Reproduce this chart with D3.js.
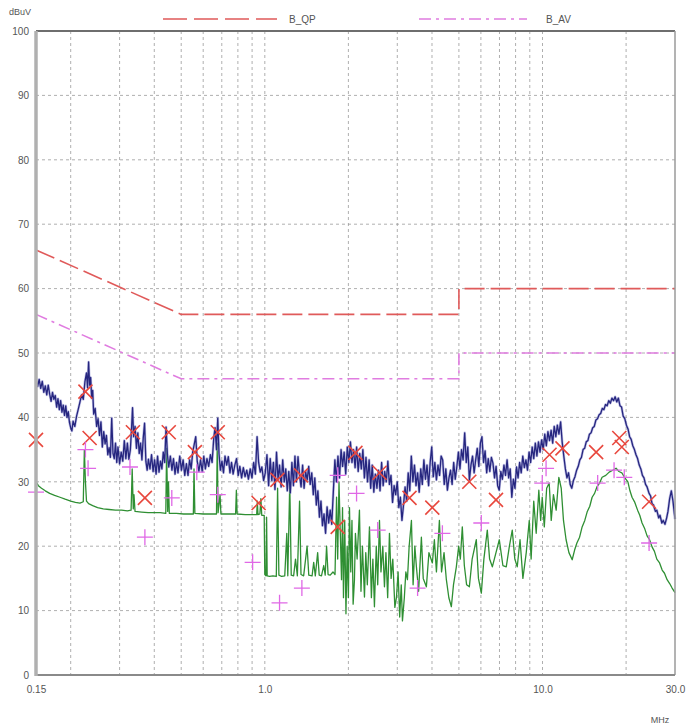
<!DOCTYPE html>
<html>
<head>
<meta charset="utf-8">
<script src="https://cdn.jsdelivr.net/npm/d3@7"></script>
<style>
  body { margin: 0; background: #fff; }
  svg { display: block; }
  text { font-family: "Liberation Sans", Arial, sans-serif; }
</style>
</head>
<body>
<svg id="chart" width="689" height="728"></svg>
<script>
// ---- axis definitions ----
const yTickValues = [0, 10, 20, 30, 40, 50, 60, 70, 80, 90, 100];
const xTickValues = [0.15, 1, 10, 30];
const xTickLabels = ["0.15", "1.0", "10.0", "30.0"];
const gridFreqs = [0.2, 0.3, 0.4, 0.5, 0.6, 0.7, 0.8, 0.9, 1, 2, 3, 4, 5, 6, 7, 8, 9, 10, 20];
const gridLevels = [10, 20, 30, 40, 50, 60, 70, 80, 90];
const yUnit = "dBuV";
const xUnit = "MHz";
const legendNames = ["B_QP", "B_AV"];

// ---- limit lines (MHz, dBuV) ----
const qpLimit = [[0.15, 66], [0.5, 56], [5, 56], [5, 60], [30, 60]];
const avLimit = [[0.15, 56], [0.5, 46], [5, 46], [5, 50], [30, 50]];

// ---- peak detector sweep (MHz, dBuV) ----
const peakTrace = [
  [0.150,46.0],[0.152,44.8],[0.154,45.9],[0.156,44.5],[0.158,45.6],[0.160,43.9],[0.162,44.9],[0.164,43.5],
  [0.166,45.0],[0.168,43.6],[0.170,42.5],[0.172,43.9],[0.174,42.8],[0.176,43.4],[0.178,41.6],[0.180,42.9],
  [0.182,41.2],[0.184,42.6],[0.186,40.8],[0.188,41.9],[0.190,40.3],[0.192,41.8],[0.194,40.0],[0.196,40.9],
  [0.198,39.2],[0.200,38.4],[0.202,37.9],[0.204,39.4],[0.207,38.6],[0.210,40.2],[0.213,41.3],[0.216,42.4],
  [0.219,43.5],[0.222,42.8],[0.225,45.5],[0.228,46.9],[0.230,44.6],[0.232,48.6],[0.234,45.0],[0.236,46.2],
  [0.238,43.0],[0.240,44.2],[0.242,40.5],[0.245,41.4],[0.248,38.6],[0.251,39.8],[0.254,37.2],[0.257,39.3],
  [0.260,35.4],[0.263,37.8],[0.266,35.9],[0.269,37.2],[0.272,34.2],[0.275,35.3],[0.278,33.8],[0.281,39.9],
  [0.284,34.4],[0.287,33.6],[0.290,36.0],[0.293,33.0],[0.296,35.4],[0.300,32.8],[0.304,34.6],[0.308,33.2],
  [0.312,36.4],[0.316,33.6],[0.320,36.0],[0.324,33.5],[0.328,35.0],[0.331,38.0],[0.334,41.5],[0.337,37.0],
  [0.341,38.6],[0.345,35.2],[0.349,37.6],[0.353,34.4],[0.357,36.0],[0.361,33.4],[0.365,36.8],[0.369,39.1],
  [0.373,33.2],[0.377,31.8],[0.381,33.5],[0.386,32.0],[0.391,34.2],[0.396,31.6],[0.401,33.4],[0.406,31.2],
  [0.411,34.0],[0.416,31.5],[0.421,33.2],[0.426,32.0],[0.431,34.6],[0.436,33.0],[0.441,38.5],[0.446,34.2],
  [0.451,32.3],[0.457,34.0],[0.463,31.8],[0.469,33.6],[0.475,31.2],[0.481,33.0],[0.487,31.4],[0.494,34.0],
  [0.501,31.8],[0.508,33.4],[0.515,31.0],[0.522,32.8],[0.529,31.0],[0.536,33.4],[0.543,32.0],[0.550,34.6],
  [0.557,35.8],[0.564,37.0],[0.571,33.2],[0.579,31.6],[0.587,33.4],[0.595,31.6],[0.603,34.0],[0.611,32.0],
  [0.619,33.6],[0.628,32.4],[0.637,34.2],[0.646,33.0],[0.655,36.8],[0.662,38.4],[0.670,35.0],[0.677,39.9],
  [0.684,34.4],[0.692,31.8],[0.701,33.2],[0.710,31.4],[0.719,34.0],[0.729,32.6],[0.739,33.9],[0.749,31.4],
  [0.759,33.0],[0.769,31.2],[0.780,32.6],[0.791,33.6],[0.802,31.0],[0.813,32.4],[0.825,30.6],[0.837,32.2],
  [0.849,30.8],[0.861,31.8],[0.873,30.4],[0.886,32.0],[0.899,30.6],[0.912,33.0],[0.925,31.2],[0.938,37.0],
  [0.950,33.0],[0.963,31.5],[0.976,32.3],[0.990,30.2],
  [1.004,31.4],[1.018,34.2],[1.032,29.4],[1.046,33.6],[1.060,30.2],[1.074,33.0],[1.088,28.8],[1.102,34.6],
  [1.116,30.4],[1.130,32.6],[1.145,29.2],[1.160,33.4],[1.175,30.0],[1.190,32.0],[1.205,28.6],[1.220,31.6],
  [1.236,28.3],[1.252,33.0],[1.268,29.4],[1.284,34.0],[1.300,30.0],[1.317,33.9],[1.334,31.0],[1.351,29.2],
  [1.368,32.6],[1.385,29.0],[1.403,31.6],[1.421,30.3],[1.439,32.4],[1.457,29.6],[1.476,31.4],[1.495,28.0],
  [1.514,30.6],[1.533,26.4],[1.553,28.6],[1.573,24.5],[1.593,27.0],[1.613,23.2],[1.634,25.0],[1.655,22.0],
  [1.676,26.1],[1.698,23.6],[1.720,25.6],[1.742,23.4],[1.765,28.4],[1.788,33.4],[1.811,30.0],[1.834,34.0],
  [1.858,30.6],[1.882,35.0],[1.906,32.4],[1.931,34.6],[1.956,31.2],[1.982,35.4],[2.008,33.0],
  [2.034,36.2],[2.060,33.0],[2.087,35.0],[2.114,32.2],[2.141,35.4],[2.169,31.6],[2.197,34.4],[2.226,32.0],
  [2.255,35.0],[2.284,30.6],[2.314,33.8],[2.344,30.0],[2.375,33.4],[2.406,29.0],[2.437,32.6],[2.469,28.4],
  [2.501,31.2],[2.534,29.0],[2.567,31.8],[2.600,28.6],[2.634,33.0],[2.668,29.4],[2.703,31.6],[2.738,30.0],
  [2.774,33.2],[2.810,29.6],[2.847,31.0],[2.884,26.8],[2.922,29.4],[2.960,28.0],[2.999,30.0],[3.038,26.0],
  [3.078,27.6],[3.118,24.0],[3.159,26.4],[3.200,29.2],[3.242,27.0],[3.284,31.4],[3.327,28.6],[3.370,34.0],
  [3.414,30.0],[3.459,32.6],[3.504,29.4],[3.550,31.4],[3.597,28.4],[3.644,32.0],[3.692,29.6],[3.740,33.4],
  [3.789,30.4],[3.838,32.6],[3.889,29.4],[3.940,33.0],[3.991,35.4],[4.043,30.8],[4.096,33.0],[4.150,30.3],
  [4.204,32.6],[4.259,31.0],[4.315,34.0],[4.371,33.4],[4.428,29.6],[4.486,32.0],[4.545,28.7],[4.605,30.6],
  [4.665,31.8],[4.726,29.6],[4.788,33.0],[4.851,30.4],[4.914,32.3],[4.979,34.6],
  [5.044,32.0],[5.110,35.0],[5.177,33.4],[5.245,37.6],[5.314,33.0],[5.384,35.4],[5.454,30.3],[5.526,32.6],
  [5.598,34.0],[5.672,31.4],[5.746,33.4],[5.821,35.2],[5.898,32.4],[5.975,36.0],[6.053,37.0],[6.133,33.0],
  [6.213,34.8],[6.295,31.4],[6.377,33.6],[6.461,31.6],[6.546,33.8],[6.631,32.9],[6.718,30.6],[6.806,32.4],
  [6.895,29.4],[6.986,28.7],[7.077,31.6],[7.170,30.4],[7.264,32.6],[7.359,31.0],[7.455,33.4],[7.553,30.6],
  [7.652,32.0],[7.752,27.6],[7.854,30.4],[7.957,29.0],[8.061,32.3],[8.166,30.6],[8.273,33.0],[8.382,31.4],
  [8.491,34.0],[8.603,32.2],[8.715,33.4],[8.829,31.8],[8.945,34.6],[9.062,33.0],[9.181,35.4],[9.301,33.6],
  [9.423,36.0],[9.546,34.0],[9.671,36.2],[9.798,34.6],[9.926,36.5],
  [10.06,35.0],[10.19,37.4],[10.32,35.6],[10.46,37.8],[10.60,36.4],[10.74,38.0],[10.88,36.0],[11.02,38.6],
  [11.17,37.0],[11.31,38.8],[11.46,37.4],[11.62,39.3],[11.77,36.2],[11.93,34.0],[12.09,32.0],[12.25,30.6],
  [12.41,31.4],[12.58,29.6],[12.75,29.0],[12.92,30.2],[13.09,30.8],[13.27,31.8],[13.45,32.4],[13.63,33.4],
  [13.81,33.8],[14.00,35.0],[14.18,35.2],[14.37,36.2],[14.57,36.4],[14.76,37.4],[14.96,37.6],[15.16,38.4],
  [15.36,38.6],[15.57,39.6],[15.78,39.8],[15.99,40.4],[16.20,40.6],[16.42,41.4],[16.64,41.2],[16.86,42.0],
  [17.09,41.8],[17.32,42.6],[17.55,42.2],[17.78,43.0],[18.02,42.6],[18.26,43.2],[18.51,42.4],[18.76,43.0],
  [19.01,41.8],[19.26,41.6],[19.52,40.2],[19.78,39.8],[20.05,38.8],[20.32,38.2],[20.59,37.0],[20.86,36.6],
  [21.14,35.6],[21.43,35.0],[21.71,34.2],[22.00,33.6],[22.30,32.6],[22.60,32.0],[22.90,31.0],[23.20,30.6],
  [23.50,29.6],[23.80,29.2],[24.20,28.2],[24.50,27.8],[24.80,26.6],[25.10,26.4],[25.50,25.4],[25.80,25.6],
  [26.20,24.4],[26.50,24.8],[26.90,23.6],[27.20,24.0],[27.60,23.4],[28.00,24.4],[28.30,25.4],[28.70,27.4],
  [29.10,28.6],[29.50,27.0],[30.00,24.2]
];

// ---- average detector sweep (MHz, dBuV) ----
const avgTrace = [
  [0.150,30.0],[0.153,29.4],[0.157,29.0],[0.162,28.6],[0.168,28.2],[0.175,27.9],[0.183,27.6],[0.191,27.3],
  [0.200,27.0],[0.208,26.8],[0.216,26.7],[0.222,26.9],[0.224,35.0],[0.226,30.0],[0.228,27.0],[0.232,26.6],
  [0.240,26.3],[0.250,26.0],[0.262,25.8],[0.275,25.7],[0.290,25.6],[0.305,25.6],[0.320,25.5],[0.330,25.6],
  [0.333,32.0],[0.336,25.8],[0.338,28.0],[0.341,25.4],[0.360,25.3],[0.380,25.2],[0.400,25.2],[0.420,25.2],
  [0.440,25.1],[0.443,35.2],[0.447,25.4],[0.450,30.0],[0.453,25.1],[0.480,25.1],[0.510,25.0],[0.540,25.0],
  [0.553,25.0],[0.556,32.0],[0.560,25.1],[0.600,25.0],[0.640,25.0],[0.670,25.0],[0.674,36.0],[0.679,25.2],
  [0.690,28.0],[0.695,25.0],[0.740,25.0],[0.785,25.0],[0.790,28.7],[0.795,25.0],[0.850,24.9],[0.900,24.9],
  [0.935,24.9],[0.940,27.0],[0.945,24.9],[0.960,25.0],[0.968,27.4],[0.975,24.8],[0.995,24.8],
  [1.000,15.6],[1.010,15.4],[1.015,24.5],[1.020,15.4],[1.040,15.3],[1.070,15.4],[1.100,15.3],[1.112,29.0],
  [1.124,15.5],[1.150,15.3],[1.180,15.4],[1.200,22.0],[1.210,15.4],[1.230,29.8],[1.245,15.5],[1.270,15.4],
  [1.290,18.0],[1.310,15.4],[1.334,27.0],[1.350,15.6],[1.380,15.4],[1.420,20.0],[1.440,15.5],[1.480,15.4],
  [1.500,17.5],[1.520,15.4],[1.550,19.0],[1.570,15.5],[1.600,15.4],[1.630,17.0],[1.650,15.5],[1.669,20.0],
  [1.690,15.6],[1.720,15.5],[1.760,16.0],[1.790,15.6],[1.813,27.6],[1.830,18.0],[1.850,30.0],[1.870,22.0],
  [1.889,14.8],[1.905,26.0],[1.920,12.0],[1.940,24.0],[1.960,9.5],[1.980,20.0],[2.000,12.0],[2.018,26.0],
  [2.040,16.0],[2.060,24.0],[2.080,11.0],[2.103,14.8],[2.120,22.0],[2.150,18.0],[2.192,25.6],[2.220,13.0],
  [2.247,20.0],[2.285,12.1],[2.310,19.0],[2.340,14.0],[2.382,23.0],[2.420,12.0],[2.450,18.0],[2.482,10.6],
  [2.520,20.0],[2.550,14.0],[2.588,24.0],[2.620,16.0],[2.660,20.0],[2.697,13.7],[2.730,19.0],[2.770,12.0],
  [2.811,22.0],[2.850,15.0],[2.890,18.0],[2.940,10.5],[2.980,12.1],[3.020,16.0],[3.060,9.0],[3.100,14.0],
  [3.131,8.4],[3.180,12.0],[3.220,16.0],[3.263,14.8],[3.310,20.0],[3.373,24.0],[3.420,14.0],[3.470,20.0],
  [3.515,16.8],[3.580,13.0],[3.663,21.4],[3.720,15.0],[3.818,13.7],[3.900,19.0],[4.012,17.4],[4.080,21.0],
  [4.150,16.0],[4.253,24.0],[4.330,16.0],[4.420,19.0],[4.506,14.8],[4.600,12.0],[4.697,10.6],[4.780,14.0],
  [4.895,16.8],[4.990,20.0],[5.060,18.0],[5.143,23.0],[5.230,17.0],[5.330,14.0],[5.453,13.7],[5.580,18.0],
  [5.776,21.0],[5.880,15.0],[6.022,12.7],[6.150,18.0],[6.327,22.5],[6.450,18.0],[6.597,16.8],[6.800,19.0],
  [6.990,21.0],[7.200,17.0],[7.404,16.8],[7.600,20.0],[7.782,22.5],[7.950,18.0],[8.111,16.8],[8.300,21.0],
  [8.500,15.0],[8.739,19.0],[8.960,24.0],[9.100,18.0],[9.300,27.0],[9.490,22.0],[9.700,28.7],[9.850,24.0],
  [9.977,27.6],[10.15,23.0],[10.35,29.0],[10.57,29.8],[10.75,24.0],[10.95,28.0],[11.20,25.6],[11.45,30.7],
  [11.68,29.0],[11.90,24.0],[12.16,21.0],[12.45,19.0],[12.79,17.9],[13.05,19.4],[13.30,20.5],[13.60,21.4],
  [13.89,23.0],[14.20,24.0],[14.50,25.4],[14.80,26.2],[15.09,27.6],[15.40,28.2],[15.70,29.2],[16.05,29.8],
  [16.39,30.7],[16.90,31.0],[17.38,31.5],[17.90,31.8],[18.40,32.1],[18.85,31.6],[19.30,31.4],[19.80,30.6],
  [20.30,30.0],[20.65,28.6],[21.01,27.6],[21.50,26.8],[22.00,25.6],[22.40,24.8],[22.83,23.6],[23.30,22.8],
  [23.80,21.6],[24.30,21.0],[24.80,19.9],[25.30,19.2],[25.80,18.0],[26.40,17.4],[26.97,16.3],[27.50,15.8],
  [28.10,14.8],[28.70,14.2],[29.29,13.5],[30.00,12.8]
];

// ---- final measurements (MHz, dBuV) ----
const qpMarkers = [
  [0.150,36.5],[0.226,44.0],[0.234,36.8],[0.335,37.7],[0.370,27.5],[0.451,37.7],[0.560,34.6],[0.677,37.7],
  [0.950,26.7],[1.110,30.3],[1.350,31.0],[1.830,23.0],[2.120,34.5],[2.590,31.4],[3.320,27.5],[4.010,26.0],
  [5.450,30.0],[6.800,27.2],[10.60,34.2],[11.80,35.2],[15.60,34.6],[18.90,36.8],[19.30,35.4],[24.20,26.9]
];
const avMarkers = [
  [0.150,28.4],[0.226,35.0],[0.231,32.1],[0.327,32.3],[0.370,21.4],[0.4625,27.5],[0.569,31.5],[0.677,28.0],
  [0.904,17.5],[1.130,11.2],[1.360,13.5],[1.830,31.0],[2.140,28.2],[2.550,22.5],[3.550,13.5],[4.360,22.0],
  [6.020,23.6],[9.980,29.8],[10.30,32.1],[15.80,29.8],[18.10,31.8],[19.70,30.7],[24.20,20.5]
];

// ---- layout ----
const W = 689, H = 728;
const plot = { left: 36, right: 675, top: 31, bottom: 675 };

const svg = d3.select("#chart");
const x = d3.scaleLog().domain([0.15, 30]).range([plot.left, plot.right]);
const y = d3.scaleLinear().domain([0, 100]).range([plot.bottom, plot.top]);

// dashed grid
const grid = svg.append("g").attr("stroke", "#9a9a9a").attr("stroke-width", 0.8)
  .attr("stroke-dasharray", "3,3").attr("fill", "none");
grid.selectAll("line.v").data(gridFreqs).join("line").attr("class", "v")
  .attr("x1", d => x(d)).attr("x2", d => x(d))
  .attr("y1", plot.top).attr("y2", plot.bottom);
grid.selectAll("line.h").data(gridLevels).join("line").attr("class", "h")
  .attr("x1", plot.left).attr("x2", plot.right)
  .attr("y1", d => y(d)).attr("y2", d => y(d));

const line = d3.line().x(d => x(d[0])).y(d => y(d[1]));

// limit lines
svg.append("path").datum(qpLimit).attr("d", line).attr("fill", "none")
  .attr("stroke", "#e05a5a").attr("stroke-width", 1.6).attr("stroke-dasharray", "20,6");
svg.append("path").datum(avLimit).attr("d", line).attr("fill", "none")
  .attr("stroke", "#e07ce0").attr("stroke-width", 1.6).attr("stroke-dasharray", "12,5,3,5");

// average sweep
svg.append("path").datum(avgTrace).attr("d", line).attr("fill", "none")
  .attr("stroke", "#2f8f33").attr("stroke-width", 1.3).attr("stroke-linejoin", "round");

// peak sweep: soft halo + dark core
svg.append("path").datum(peakTrace).attr("d", line).attr("fill", "none")
  .attr("stroke", "#8a8ad0").attr("stroke-width", 2.6).attr("stroke-opacity", 0.55)
  .attr("stroke-linejoin", "round");
svg.append("path").datum(peakTrace).attr("d", line).attr("fill", "none")
  .attr("stroke", "#26267f").attr("stroke-width", 1.3).attr("stroke-linejoin", "round");

// QP markers (×)
const xs = 7;
svg.append("g").selectAll("path").data(qpMarkers).join("path")
  .attr("d", d => {
    const cx = x(d[0]), cy = y(d[1]);
    return `M${cx - xs},${cy - xs}L${cx + xs},${cy + xs}M${cx - xs},${cy + xs}L${cx + xs},${cy - xs}`;
  })
  .attr("stroke", "#e8483e").attr("stroke-width", 1.6).attr("fill", "none");

// AV markers (+)
const ps = 8;
svg.append("g").selectAll("path").data(avMarkers).join("path")
  .attr("d", d => {
    const cx = x(d[0]), cy = y(d[1]);
    return `M${cx - ps},${cy}L${cx + ps},${cy}M${cx},${cy - ps}L${cx},${cy + ps}`;
  })
  .attr("stroke", "#e068e6").attr("stroke-width", 1.3).attr("fill", "none");

// frame
svg.append("line").attr("x1", plot.left).attr("x2", plot.right).attr("y1", plot.top).attr("y2", plot.top)
  .attr("stroke", "#6e6e6e").attr("stroke-width", 2);
svg.append("line").attr("x1", plot.right).attr("x2", plot.right).attr("y1", plot.top).attr("y2", plot.bottom)
  .attr("stroke", "#9a9a9a").attr("stroke-width", 1.5);
svg.append("line").attr("x1", plot.left).attr("x2", plot.right).attr("y1", plot.bottom).attr("y2", plot.bottom)
  .attr("stroke", "#8a8a8a").attr("stroke-width", 2);
svg.append("line").attr("x1", plot.left).attr("x2", plot.left).attr("y1", plot.top).attr("y2", plot.bottom + 1)
  .attr("stroke", "#b0b0b0").attr("stroke-width", 3.5);

// axes labels
const yAxis = d3.axisLeft(y).tickValues(yTickValues).tickSize(0).tickPadding(6);
const gy = svg.append("g").attr("transform", `translate(${plot.left - 1},0)`).call(yAxis);
gy.select(".domain").remove();
gy.selectAll("text").attr("font-size", 10).attr("fill", "#555")
  .attr("font-family", "'Liberation Sans', Arial, sans-serif");

const xAxis = d3.axisBottom(x).tickValues(xTickValues).tickSize(0).tickPadding(11)
  .tickFormat((d, i) => xTickLabels[i]);
const gx = svg.append("g").attr("transform", `translate(0,${plot.bottom})`).call(xAxis);
gx.select(".domain").remove();
gx.selectAll("text").attr("font-size", 10).attr("fill", "#555")
  .attr("font-family", "'Liberation Sans', Arial, sans-serif");

svg.append("text").attr("x", 9).attr("y", 15).attr("font-size", 9).attr("fill", "#555").text(yUnit);
svg.append("text").attr("x", 660).attr("y", 723).attr("font-size", 9).attr("fill", "#555")
  .attr("text-anchor", "middle").text(xUnit);

// legend
svg.append("line").attr("x1", 163).attr("x2", 277).attr("y1", 19).attr("y2", 19)
  .attr("stroke", "#e05a5a").attr("stroke-width", 1.6).attr("stroke-dasharray", "24,7");
svg.append("text").attr("x", 289).attr("y", 23).attr("font-size", 10).attr("fill", "#555").text(legendNames[0]);
svg.append("line").attr("x1", 419).attr("x2", 527).attr("y1", 19).attr("y2", 19)
  .attr("stroke", "#e07ce0").attr("stroke-width", 1.6).attr("stroke-dasharray", "12,5,3,5");
svg.append("text").attr("x", 546).attr("y", 23).attr("font-size", 10).attr("fill", "#555").text(legendNames[1]);
</script>
</body>
</html>
